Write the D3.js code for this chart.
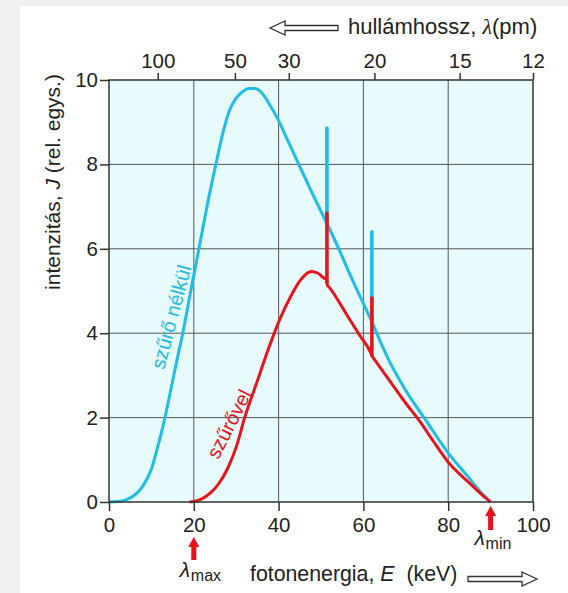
<!DOCTYPE html>
<html><head><meta charset="utf-8">
<script src="https://cdn.jsdelivr.net/npm/d3@7"></script>
<style>
html,body{margin:0;padding:0;background:#f0f0f0;}
svg{display:block;}
text{font-family:"Liberation Sans",Arial,Helvetica,sans-serif;fill:#222;}
</style></head><body>
<svg id="c" width="568" height="593"></svg>
<script>
// ---- data ----
const energyTicks = [0, 20, 40, 60, 80, 100];
const intensityTicks = [0, 2, 4, 6, 8, 10];
const gridEnergy = [20, 40, 60, 80];
const gridIntensity = [2, 4, 6, 8];
const wavelengthLabels = [100, 50, 30, 20, 15, 12];
const wavelengthAtEnergy = [11.5, 29.7, 42.4, 62.6, 82.7, 100];

// without filter (szűrő nélkül) — continuum
const blueE = [0, 2, 4, 6, 8, 10, 11.2, 12, 13.2, 14.7, 16, 17.4, 19, 21.2, 23.3, 25.2, 27, 28.5, 30, 31.5, 33, 34.4, 36, 37.5, 39.8, 42, 45, 48, 51.4, 54.2, 57, 60, 62, 64, 66, 70, 74.7, 79.8, 85, 88, 90];
const blueJ = [0, 0.01, 0.05, 0.16, 0.38, 0.78, 1.2, 1.5, 2.0, 2.72, 3.35, 4.0, 4.85, 6.0, 7.1, 8.0, 8.8, 9.3, 9.57, 9.72, 9.8, 9.8, 9.7, 9.48, 9.08, 8.6, 7.95, 7.3, 6.6, 6.0, 5.35, 4.7, 4.27, 3.8, 3.36, 2.64, 1.94, 1.19, 0.56, 0.2, 0];

// with filter (szűrővel) — continuum
const redE = [19, 20, 22, 24, 26, 28, 30, 32, 35.1, 37.5, 40.2, 43, 45.5, 47.7, 49.3, 50.8, 51.3, 51.5, 52, 56, 59, 61.9, 62.1, 62.6, 66, 70, 73.1, 76.5, 79.8, 85, 88, 90];
const redJ = [0, 0.01, 0.08, 0.22, 0.45, 0.8, 1.3, 2.0, 2.9, 3.6, 4.31, 4.9, 5.3, 5.46, 5.42, 5.3, 5.28, 5.14, 5.08, 4.45, 3.97, 3.5, 3.45, 3.38, 2.9, 2.34, 1.94, 1.44, 0.97, 0.45, 0.17, 0];

// characteristic lines (spikes)
const spikeE = [51.4, 62];
const blueSpikeBase = [6.6, 4.27];
const blueSpikeTop = [8.86, 6.4];
const redSpikeBase = [5.2, 3.47];
const redSpikeTop = [6.84, 4.83];

const markerEnergies = [20, 90]; // λmax, λmin

// ---- layout ----
const W = 568, H = 593;
const m = {left: 109, right: 35, top: 80, bottom: 91};
const BLUE = "#1fbde8", RED = "#e8141c";

const svg = d3.select("#c");
svg.append("rect").attr("x", 20).attr("y", 6).attr("width", W - 20).attr("height", H - 6).attr("fill", "#fff");

const x = d3.scaleLinear().domain([0, 100]).range([m.left, W - m.right]);
const y = d3.scaleLinear().domain([0, 10]).range([H - m.bottom, m.top]);

svg.append("rect").attr("x", x(0)).attr("y", y(10)).attr("width", x(100) - x(0)).attr("height", y(0) - y(10)).attr("fill", "#e7fafc");

// grid
const g = svg.append("g");
g.selectAll(".gv").data(gridEnergy).join("line")
  .attr("x1", d => x(d)).attr("x2", d => x(d)).attr("y1", y(0)).attr("y2", y(10))
  .attr("stroke", "#555").attr("stroke-width", 1);
g.selectAll(".gh").data(gridIntensity).join("line")
  .attr("y1", d => y(d)).attr("y2", d => y(d)).attr("x1", x(0)).attr("x2", x(100))
  .attr("stroke", "#555").attr("stroke-width", 1);

// curves
const line = d3.line().x(d => x(d[0])).y(d => y(d[1])).curve(d3.curveMonotoneX);
const blue = blueE.map((e, i) => [e, blueJ[i]]);
const red = redE.map((e, i) => [e, redJ[i]]);
function drawSpikes(base, top, color) {
  svg.append("g").selectAll("line").data(spikeE).join("line")
    .attr("x1", d => x(d)).attr("x2", d => x(d))
    .attr("y1", (d, i) => y(base[i])).attr("y2", (d, i) => y(top[i]))
    .attr("stroke", color).attr("stroke-width", 3.6).attr("stroke-linecap", "round");
}
svg.append("path").attr("d", line(blue)).attr("fill", "none").attr("stroke", BLUE)
  .attr("stroke-width", 3).attr("stroke-linejoin", "round");
drawSpikes(blueSpikeBase, blueSpikeTop, BLUE);
svg.append("path").attr("d", line(red)).attr("fill", "none").attr("stroke", RED)
  .attr("stroke-width", 3).attr("stroke-linejoin", "round");
drawSpikes(redSpikeBase, redSpikeTop, RED);

// frame
svg.append("rect").attr("x", x(0)).attr("y", y(10)).attr("width", x(100) - x(0)).attr("height", y(0) - y(10))
  .attr("fill", "none").attr("stroke", "#333").attr("stroke-width", 1.5);

// axes
function styleAxis(sel) {
  sel.select(".domain").remove();
  sel.selectAll(".tick line").attr("stroke", "#333").attr("stroke-width", 1.5);
  sel.selectAll(".tick text").attr("font-size", 20.5).attr("fill", "#222")
    .attr("font-family", '"Liberation Sans",Arial,sans-serif');
}
svg.append("g").attr("transform", `translate(0,${y(0)})`)
  .call(d3.axisBottom(x).tickValues(energyTicks).tickSize(9).tickPadding(6).tickFormat(d3.format("d")))
  .call(styleAxis);
svg.append("g").attr("transform", `translate(${x(0)},0)`)
  .call(d3.axisLeft(y).tickValues(intensityTicks).tickSize(9).tickPadding(2).tickFormat(d3.format("d")))
  .call(styleAxis);
svg.append("g").attr("transform", `translate(0,${y(10)})`)
  .call(d3.axisTop(x).tickValues(wavelengthAtEnergy).tickSize(7).tickPadding(5)
    .tickFormat((d, i) => wavelengthLabels[i]))
  .call(styleAxis);

// axis titles
const yt = svg.append("text").attr("transform", "translate(52,182) rotate(-90)")
  .attr("text-anchor", "middle").attr("dominant-baseline", "central").attr("font-size", 21);
yt.append("tspan").text("intenzitás, ");
yt.append("tspan").attr("font-style", "italic").text("J");
yt.append("tspan").text(" (rel. egys.)");

const xt = svg.append("text").attr("x", 250).attr("y", 581).attr("font-size", 21.3);
xt.append("tspan").text("fotonenergia, ");
xt.append("tspan").attr("font-style", "italic").text("E");
xt.append("tspan").attr("dx", 6).text(" (keV)");

const tt = svg.append("text").attr("x", 348).attr("y", 34).attr("font-size", 22);
tt.append("tspan").text("hullámhossz, ");
tt.append("tspan").attr("font-family", '"Liberation Serif",serif').attr("font-style", "italic").text("λ");
tt.append("tspan").text("(pm)");

// hollow arrows
function hollowArrow(x0, x1, yc, dir) {
  const hh = 7, sh = 2.5, hl = 15;
  let p;
  if (dir < 0) {
    p = [[x0, yc], [x0 + hl, yc - hh], [x0 + hl, yc - sh], [x1, yc - sh], [x1, yc + sh], [x0 + hl, yc + sh], [x0 + hl, yc + hh]];
  } else {
    p = [[x1, yc], [x1 - hl, yc - hh], [x1 - hl, yc - sh], [x0, yc - sh], [x0, yc + sh], [x1 - hl, yc + sh], [x1 - hl, yc + hh]];
  }
  svg.append("path").attr("d", "M" + p.map(q => q.join(",")).join("L") + "Z")
    .attr("fill", "#fff").attr("stroke", "#333").attr("stroke-width", 1.3);
}
hollowArrow(270, 338, 28, -1);
hollowArrow(468, 537, 579, 1);

// red marker arrows
function redArrow(xc, tip, bottom) {
  const hw = 5.5, sw = 2.5, hl = 10;
  const p = [[xc, tip], [xc + hw, tip + hl], [xc + sw, tip + hl], [xc + sw, bottom], [xc - sw, bottom], [xc - sw, tip + hl], [xc - hw, tip + hl]];
  svg.append("path").attr("d", "M" + p.map(q => q.join(",")).join("L") + "Z").attr("fill", "#e8101a");
}
redArrow(x(markerEnergies[0]), 537, 560);
redArrow(x(markerEnergies[1]), 506, 530);

function lambdaLabel(xs, yb, sub) {
  svg.append("text").attr("x", xs).attr("y", yb).attr("font-size", 21)
    .attr("font-family", '"Liberation Serif",serif').attr("font-style", "italic").text("λ");
  svg.append("text").attr("x", xs + 11).attr("y", yb + 4).attr("font-size", 16).text(sub);
}
lambdaLabel(x(markerEnergies[0]) - 14, 577, "max");
lambdaLabel(x(markerEnergies[1]) - 16, 545, "min");

// curve labels
svg.append("text").attr("transform", "translate(171,317) rotate(-75)")
  .attr("text-anchor", "middle").attr("dominant-baseline", "central")
  .attr("font-size", 20).style("fill", BLUE).text("szűrő nélkül");
svg.append("text").attr("transform", "translate(229,424) rotate(-63)")
  .attr("text-anchor", "middle").attr("dominant-baseline", "central")
  .attr("font-size", 20).style("fill", RED).text("szűrővel");
</script>
</body></html>
